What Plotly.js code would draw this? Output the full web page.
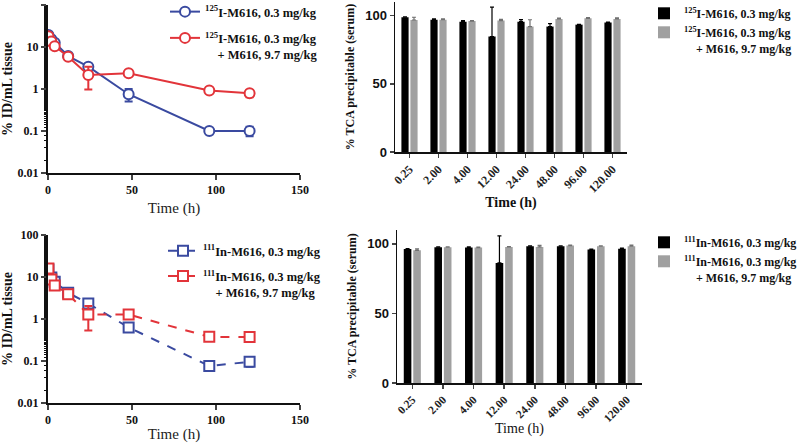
<!DOCTYPE html>
<html>
<head>
<meta charset="utf-8">
<script src="https://cdn.plot.ly/plotly-3.0.1.min.js"></script>
<style>html,body{margin:0;padding:0;background:#fff}#chart{width:800px;height:443px}</style>
</head>
<body>
<div id="chart"></div>
<script>
// ---- Data ----
const timeH = [0.25, 2, 4, 12, 24, 48, 96, 120];
// Top-left: 125I tissue %ID/mL
const i125Low = [19.4, 15.3, 12.7, 6.1, 3.4, 0.75, 0.1, 0.1];
const i125LowErr = [1.5, 1.0, 1.0, 0.5, 0.6, 0.25, 0.006, 0.025];
const i125High = [18, 13.5, 10.5, 5.9, 2.17, 2.38, 0.92, 0.79];
const i125HighErr = [1.5, 1.0, 0.8, 0.4, 1.2, 0.2, 0.12, 0.15];
// Bottom-left: 111In tissue %ID/mL
const in111Low = [15.2, 9.8, 7.7, 4.2, 2.34, 0.63, 0.076, 0.095];
const in111LowErr = [1.5, 0.8, 0.6, 0.3, 0.3, 0.08, 0.008, 0.022];
const in111High = [16, 8.7, 6.3, 3.9, 1.28, 1.28, 0.376, 0.37];
const in111HighErr = [3, 0.8, 0.6, 0.4, 0.75, 0.15, 0.04, 0.07];
// Right: % TCA precipitable (serum)
const timeCats = ["0.25", "2.00", "4.00", "12.00", "24.00", "48.00", "96.00", "120.00"];
const tcaI125Low = [98.8, 97, 95.6, 84.7, 95.6, 92, 93.4, 95];
const tcaI125LowErr = [0.3, 0.6, 0.8, 21.5, 1.5, 2.2, 0.3, 0.3];
const tcaI125High = [96.8, 97, 96, 96.4, 92, 97.6, 98, 97.6];
const tcaI125HighErr = [2, 0.6, 0.4, 0.8, 5, 0.6, 0.6, 0.8];
const tcaIn111Low = [96.4, 97.6, 97.4, 86.3, 98.3, 98.3, 96, 96.6];
const tcaIn111LowErr = [0.3, 0.3, 0.5, 19.5, 0.3, 0.3, 0.3, 0.3];
const tcaIn111High = [95.4, 97.6, 97.4, 97.8, 97.8, 98.8, 98.3, 98.3];
const tcaIn111HighErr = [1, 0.3, 0.3, 0.3, 1.2, 0.3, 0.3, 0.8];

const lblI125Low = "<sup>125</sup>I-M616, 0.3 mg/kg";
const lblI125High = "<sup>125</sup>I-M616, 0.3 mg/kg<br>&nbsp;&nbsp;&nbsp;&nbsp;+ M616, 9.7 mg/kg";
const lblIn111Low = "<sup>111</sup>In-M616, 0.3 mg/kg";
const lblIn111High = "<sup>111</sup>In-M616, 0.3 mg/kg<br>&nbsp;&nbsp;&nbsp;&nbsp;+ M616, 9.7 mg/kg";

const BLUE = "#3a4aa0", RED = "#e2343a";
const serif = "Liberation Serif";

function lineTrace(y, err, color, name, sym, dash, xa, ya, leg, grp) {
  return {
    x: timeH, y: y, name: name, type: "scatter", mode: "lines+markers",
    xaxis: xa, yaxis: ya, legend: leg, legendgroup: grp,
    line: {color: color, width: 2, dash: dash},
    marker: {symbol: sym, size: 10, color: "white", line: {color: color, width: 2}},
    error_y: {type: "data", array: err, visible: true, color: color, thickness: 2, width: 4}
  };
}
function barTrace(y, err, color, ecolor, name, xa, ya, leg, grp) {
  return {
    x: timeCats, y: y, name: name, type: "bar", xaxis: xa, yaxis: ya, legend: leg, legendgroup: grp,
    marker: {color: color},
    error_y: {type: "data", array: err, arrayminus: y.map(() => 0), visible: true, color: ecolor, thickness: 1.2, width: 2}
  };
}

const data = [
  lineTrace(i125Low, i125LowErr, BLUE, lblI125Low, "circle", "solid", "x", "y", "legend", "a1"),
  lineTrace(i125High, i125HighErr, RED, lblI125High, "circle", "solid", "x", "y", "legend", "a2"),
  barTrace(tcaI125Low, tcaI125LowErr, "#000000", "#000000", lblI125Low, "x2", "y2", "legend2", "b1"),
  barTrace(tcaI125High, tcaI125HighErr, "#a0a0a0", "#707070", lblI125High, "x2", "y2", "legend2", "b2"),
  lineTrace(in111Low, in111LowErr, BLUE, lblIn111Low, "square", "dash", "x3", "y3", "legend3", "c1"),
  lineTrace(in111High, in111HighErr, RED, lblIn111High, "square", "dash", "x3", "y3", "legend3", "c2"),
  barTrace(tcaIn111Low, tcaIn111LowErr, "#000000", "#000000", lblIn111Low, "x4", "y4", "legend4", "d1"),
  barTrace(tcaIn111High, tcaIn111HighErr, "#a0a0a0", "#707070", lblIn111High, "x4", "y4", "legend4", "d2")
];

const W = 800, H = 443;
const px = v => v / W, py = v => 1 - v / H;

const tickFontSerif = {family: serif, size: 12, color: "#111", weight: "bold"};
function logY(top, bottom) {
  return {
    type: "log", range: [-2.003, 2.003], domain: [py(bottom), py(top)],
    tickvals: [0.01, 0.1, 1, 10, 100], ticktext: ["0.01", "0.1", "1", "10", "100"],
    ticks: "outside", ticklen: 5, tickwidth: 2, showline: true, linewidth: 2, linecolor: "#111",
    showgrid: false, zeroline: false, tickfont: tickFontSerif,
    minor: {ticks: "outside", ticklen: 2.5, tickwidth: 1, tickcolor: "#111", showgrid: false},
    title: {text: "<b>% ID/mL tissue</b>", font: {family: serif, size: 14, color: "#111"}, standoff: 6}
  };
}
function linX(left, right, anchor, standoff) {
  return {
    range: [0, 150], domain: [px(left), px(right)], anchor: anchor,
    tickvals: [0, 50, 100, 150], ticks: "outside", ticklen: 5, tickwidth: 2,
    showline: true, linewidth: 2, linecolor: "#111", showgrid: false, zeroline: false,
    tickfont: tickFontSerif,
    title: {text: "Time (h)", font: {family: serif, size: 15, color: "#222"}, standoff: standoff}
  };
}
function barY(top, bottom, anchor) {
  return {
    range: [0, 110], domain: [py(bottom), py(top)], anchor: anchor,
    tickvals: [0, 50, 100], ticks: "outside", ticklen: 4, tickwidth: 1.5,
    showline: true, linewidth: 1.5, linecolor: "#111", showgrid: false, zeroline: false,
    tickfont: {family: "Liberation Sans", size: 13, color: "#111", weight: "bold"},
    title: {text: "<b>% TCA precipitable (serum)</b>", font: {family: serif, size: 12, color: "#111"}, standoff: 8}
  };
}
function barX(left, right, anchor, boldTitle, standoff, tsize) {
  return {
    type: "category", range: [-0.5, 7.5], domain: [px(left), px(right)], anchor: anchor,
    ticks: "outside", ticklen: 4, tickwidth: 1.5, tickangle: -45,
    showline: true, linewidth: 1.5, linecolor: "#111", showgrid: false, zeroline: false,
    tickfont: {family: serif, size: tsize, color: "#222", weight: "bold"},
    title: {text: boldTitle ? "<b>Time (h)</b>" : "Time (h)", font: {family: serif, size: 14, color: "#111"}, standoff: standoff}
  };
}
function leg(xPix, yPix, size, gap) {
  return {x: px(xPix), y: py(yPix), xanchor: "left", yanchor: "top",
    font: {family: serif, size: size, color: "#111", weight: "bold"}, valign: "top",
    bgcolor: "rgba(0,0,0,0)", tracegroupgap: gap, itemwidth: 30};
}

const layout = {
  width: W, height: H, margin: {l: 0, r: 0, t: 0, b: 0, autoexpand: false},
  paper_bgcolor: "white", plot_bgcolor: "white",
  showlegend: true, barmode: "group", bargap: 0.38, bargroupgap: 0.2,
  xaxis: linX(48, 300, "y", 6),
  yaxis: Object.assign(logY(5, 173), {anchor: "x"}),
  xaxis2: barX(395, 627, "y2", true, 2, 12),
  yaxis2: barY(2, 152, "x2"),
  xaxis3: linX(48, 300, "y3", 4),
  yaxis3: Object.assign(logY(235, 403), {anchor: "x3"}),
  xaxis4: barX(397, 642, "y4", false, 0, 11.5),
  yaxis4: barY(230, 383, "x4"),
  legend: leg(165, -3, 12.5, 7),
  legend2: leg(644, -1, 12, 0),
  legend3: leg(163, 236, 12.5, 6),
  legend4: leg(644, 228, 12, 0)
};

Plotly.newPlot("chart", data, layout, {displayModeBar: false, staticPlot: true});
</script>
</body>
</html>
